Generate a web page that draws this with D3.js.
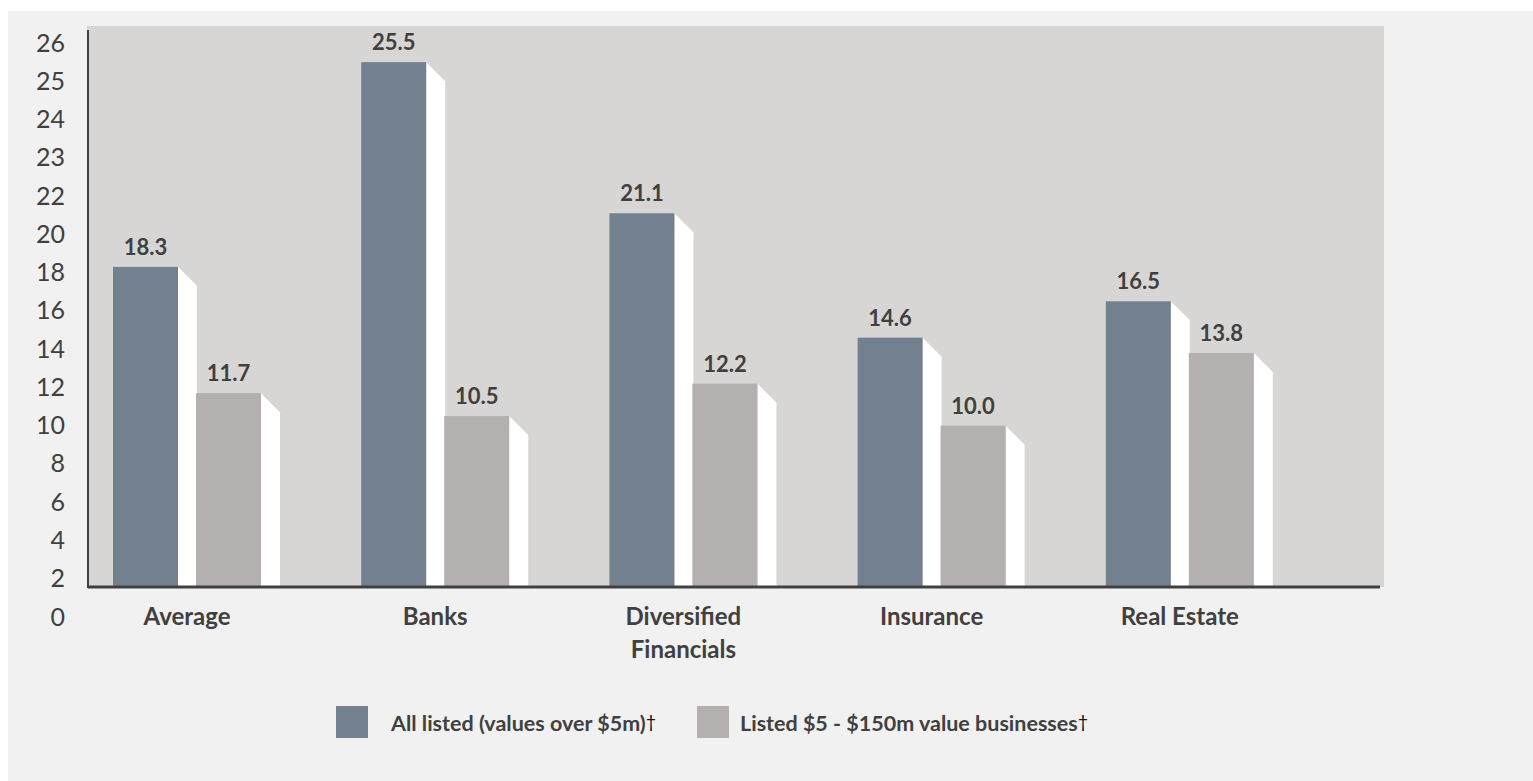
<!DOCTYPE html>
<html lang="en">

<head>
    <meta charset="UTF-8">
    <title>Listed businesses chart</title>
    <script src="https://d3js.org/d3.v7.min.js"></script>

    <style>
        body {
            margin: 0;
            background: #ffffff;
        }

        svg text {
            font-family: Lato, "Open Sans", sans-serif;
            fill: #404040;
        }
    </style>

</head>

<body>

    <svg width="1533" height="781" id='svg1'></svg>

    <script>

        // ---- data ----
        const categories = ["Average", "Banks", "Diversified Financials", "Insurance", "Real Estate"];
        const allListed = [18.3, 25.5, 21.1, 14.6, 16.5];
        const smallListed = [11.7, 10.5, 12.2, 10.0, 13.8];
        const yTicks = [0, 2, 4, 6, 8, 10, 12, 14, 16, 18, 20, 22, 23, 24, 25, 26];
        const seriesNames = ["All listed (values over\u00a0$5m)", "Listed $5 - $150m value businesses"];

        const svg = d3.select('#svg1');
        const width = +svg.attr('width');
        const height = +svg.attr('height');

        const plot = { left: 87, right: 1384, top: 26, bottom: 587 };
        const colors = ['#72808f', '#b4b0af'];
        const depth = { dx: 19, dy: 19 };

        // page panel + plot background
        svg.append('rect')
            .attr('x', 8).attr('y', 11)
            .attr('width', width - 8).attr('height', height - 11)
            .attr('fill', '#f1f1f1');

        svg.append('rect')
            .attr('x', plot.left).attr('y', plot.top)
            .attr('width', plot.right - plot.left).attr('height', plot.bottom - plot.top)
            .attr('fill', '#d7d6d4');

        // tick labels sit evenly spaced, so the y scale is piecewise
        const tickPos = d3.scalePoint()
            .domain(yTicks)
            .range([617, 43]);

        const y = d3.scaleLinear()
            .domain(yTicks)
            .range(yTicks.map(d => tickPos(d)));

        const x = d3.scaleBand()
            .domain(categories)
            .range([88, 1329])
            .padding(0);

        const xSub = d3.scaleBand()
            .domain([0, 1])
            .range([25, 173])
            .paddingInner(0.217)
            .paddingOuter(0);

        const rows = categories.map((c, i) => ({ cat: c, values: [allListed[i], smallListed[i]] }));

        const groups = svg.append('g')
            .selectAll('g')
            .data(rows)
            .enter()
            .append('g')
            .attr('transform', d => `translate(${x(d.cat)},0)`);

        const bars = groups.selectAll('g')
            .data(d => d.values.map((v, k) => ({ k: k, value: v })))
            .enter()
            .append('g');

        // white side face
        bars.append('path')
            .attr('fill', '#ffffff')
            .attr('d', d => {
                const x0 = xSub(d.k) + xSub.bandwidth();
                const top = y(d.value);
                return `M${x0},${top}L${x0 + depth.dx},${top + depth.dy}L${x0 + depth.dx},${plot.bottom}L${x0},${plot.bottom}Z`;
            });

        bars.append('rect')
            .attr('x', d => xSub(d.k))
            .attr('y', d => y(d.value))
            .attr('width', xSub.bandwidth())
            .attr('height', d => plot.bottom - y(d.value))
            .attr('fill', d => colors[d.k]);

        bars.append('text')
            .attr('x', d => xSub(d.k) + xSub.bandwidth() / 2)
            .attr('y', d => y(d.value) - 12)
            .attr('text-anchor', 'middle')
            .attr('font-weight', 700)
            .attr('font-size', 22)
            .text(d => d.value.toFixed(1));

        // axes
        const yAxis = svg.append('g')
            .attr('transform', `translate(${plot.left},0)`)
            .call(d3.axisLeft(y).tickValues(yTicks).tickSize(0).tickPadding(22).tickFormat(d3.format('d')));
        yAxis.select('.domain').remove();
        yAxis.selectAll('text')
            .attr('font-size', 25)
            .attr('fill', '#404040')
            .style('font-family', 'Lato, sans-serif');

        svg.append('line')
            .attr('x1', plot.left + 1).attr('x2', plot.left + 1)
            .attr('y1', 30).attr('y2', plot.bottom + 1)
            .attr('stroke', '#404040').attr('stroke-width', 2);

        svg.append('line')
            .attr('x1', plot.left + 1).attr('x2', 1380)
            .attr('y1', plot.bottom).attr('y2', plot.bottom)
            .attr('stroke', '#404040').attr('stroke-width', 3);

        // category labels
        svg.append('g')
            .selectAll('text')
            .data(categories)
            .enter()
            .append('text')
            .attr('x', d => x(d) + (xSub(0) + xSub(1) + xSub.bandwidth()) / 2)
            .attr('y', 625)
            .attr('text-anchor', 'middle')
            .attr('font-weight', 700)
            .attr('font-size', 24)
            .each(function (d) {
                const words = d.split(' ');
                const lines = words.length > 1 && d.length > 12 ? words : [d];
                d3.select(this).selectAll('tspan')
                    .data(lines)
                    .enter()
                    .append('tspan')
                    .attr('x', d3.select(this).attr('x'))
                    .attr('dy', (l, i) => i === 0 ? 0 : 33)
                    .text(l => l);
            });

        // legend
        const legendX = [336, 697];
        const legend = svg.append('g')
            .selectAll('g')
            .data(seriesNames)
            .enter()
            .append('g')
            .attr('transform', (d, i) => `translate(${legendX[i]},706)`);

        legend.append('rect')
            .attr('width', 32).attr('height', 32)
            .attr('fill', (d, i) => colors[i]);

        const lt = legend.append('text')
            .attr('x', (d, i) => i === 0 ? 55 : 43)
            .attr('y', 25)
            .attr('font-weight', 700)
            .attr('font-size', 21.5);
        lt.append('tspan').text(d => d);
        lt.append('tspan')
            .attr('font-weight', 400)
            .attr('font-size', 18)
            .attr('dy', -3)
            .style('fill', '#111')
            .text('\u2020');

    </script>

</body>

</html>
